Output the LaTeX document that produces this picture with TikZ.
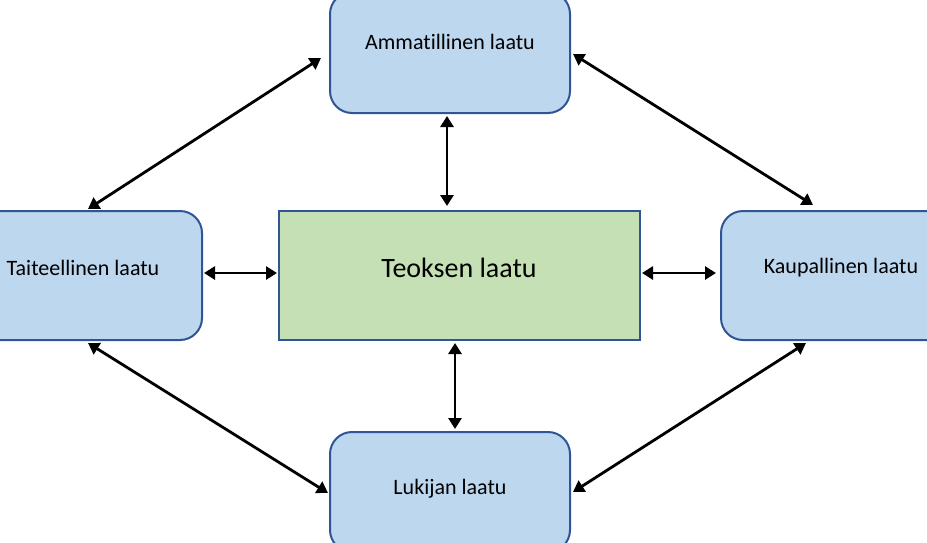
\documentclass[tikz,border=0pt]{standalone}
\usepackage{fontspec}
\setmainfont{Carlito}[Ligatures={NoCommon}]
\usetikzlibrary{arrows.meta,calc}
\definecolor{laatusin}{HTML}{BDD7EE}
\definecolor{laatuvihr}{HTML}{C5E0B4}
\definecolor{reuna}{HTML}{2F5597}
\tikzset{
  laatu/.style={draw=reuna, fill=laatusin, line width=1pt, rounded corners=11pt,
    minimum width=120pt, inner sep=0pt},
  teos/.style={draw=reuna, fill=laatuvihr, line width=1pt,
    minimum width=180.5pt, minimum height=64.5pt, inner sep=0pt},
  teksti/.style={font=\fontsize{11}{13}\selectfont, inner sep=0pt},
  yhteys/.style={line width=1.4pt, {Triangle[length=5.5pt,width=6.5pt]}-{Triangle[length=5.5pt,width=6.5pt]}}
}
\begin{document}
\begin{tikzpicture}[x=0.5pt, y=-0.5pt]
\useasboundingbox (0,0) rectangle (927,542);
\clip (0,0) rectangle (927,542);
% laatikot
\node[laatu, minimum height=60.5pt] (amm) at (450,52.5) {};
\node[laatu, minimum height=64.5pt] (tai) at (82,275.5) {};
\node[laatu, minimum height=64.5pt] (kau) at (841,275.5) {};
\node[laatu, minimum height=60pt] (luk) at (450,492) {};
\node[teos] (teo) at (459.5,275.5) {};
% tekstit
\node[teksti] (ammt) at (450,42) {Ammatillinen laatu};
\node[teksti] (tait) at (83,268) {Taiteellinen laatu};
\node[teksti] (kaut) at (841,268) {Kaupallinen laatu};
\node[teksti] (lukt) at (450,489) {Lukijan laatu};
\node[teksti, font=\fontsize{14}{17}\selectfont] (teot) at (459,268) {Teoksen laatu};
% nuolet
\draw[yhteys] ($(tai.north)+(6,-1)$) -- ($(amm.west)+(-8,5.5)$);
\draw[yhteys] ($(amm.east)+(2,1.5)$) -- ($(kau.north)+(-28,-5)$);
\draw[yhteys] ($(amm.south)+(-3,2)$) -- ($(teo.north)+(-12.5,-4)$);
\draw[yhteys] ($(tai.east)+(1,-2.5)$) -- ($(teo.west)+(-1,-2.5)$);
\draw[yhteys] ($(teo.east)+(1,-2.5)$) -- ($(kau.west)+(-4,-2.5)$);
\draw[yhteys] ($(teo.south)+(-4.5,2)$) -- ($(luk.north)+(5,-2)$);
\draw[yhteys] ($(tai.south)+(6,2)$) -- ($(luk.west)+(-1,1)$);
\draw[yhteys] ($(luk.east)+(2,0)$) -- ($(kau.south)+(-35,2)$);
\end{tikzpicture}
\end{document}
